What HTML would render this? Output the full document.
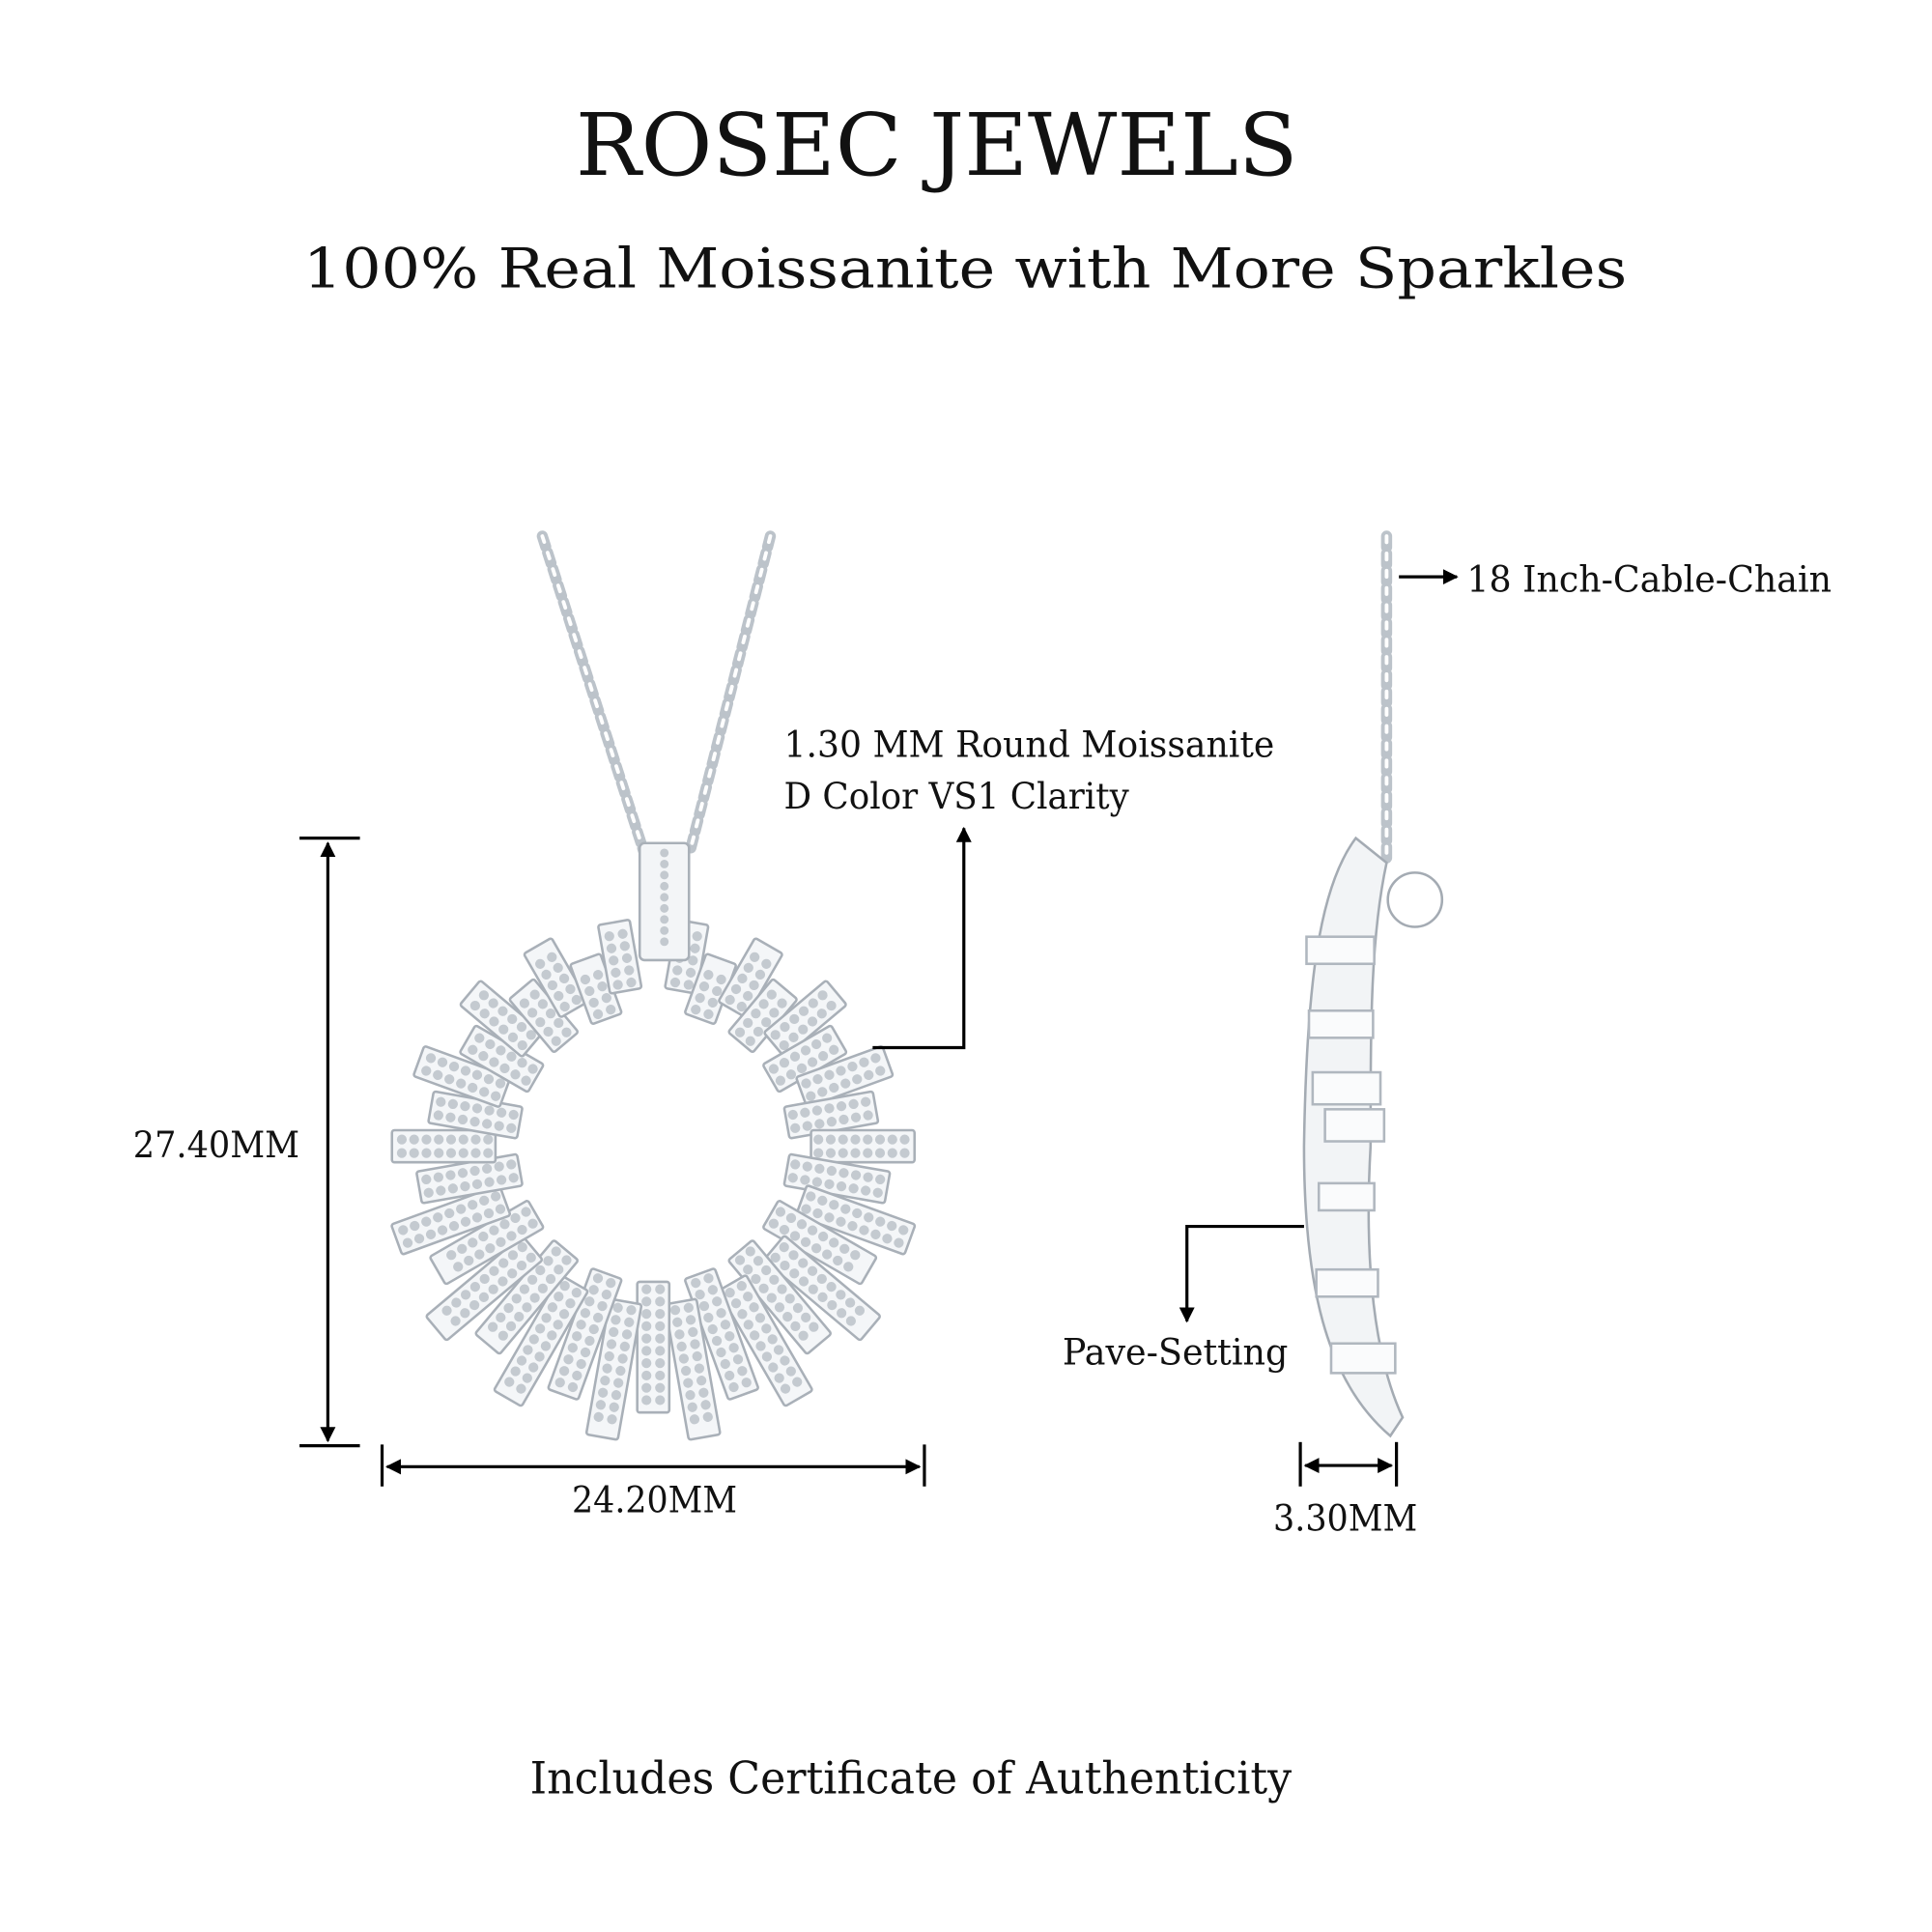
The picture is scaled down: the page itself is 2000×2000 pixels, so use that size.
<!DOCTYPE html>
<html><head><meta charset="utf-8"><style>
html,body{margin:0;padding:0;background:#fff;}
svg{display:block}
text{font-family:"DejaVu Serif","Liberation Serif",serif;fill:#111}
</style></head><body>
<svg id="s" width="2000" height="2000" viewBox="0 0 1567.5 1567.5" xmlns="http://www.w3.org/2000/svg">
<defs>
<marker id="ah" viewBox="0 0 10 10" refX="9" refY="5" markerWidth="5" markerHeight="5.5" orient="auto-start-reverse"><path d="M0,0L10,5L0,10z" fill="#000"/></marker>
</defs>
<text x="467" y="142" font-size="70" textLength="586" lengthAdjust="spacingAndGlyphs">ROSEC JEWELS</text>
<text x="246" y="233" font-size="45" textLength="1074" lengthAdjust="spacingAndGlyphs">100% Real Moissanite with More Sparkles</text>

<g fill="none" stroke-linecap="round">
<path d="M440,435 L522,690" stroke="#bcc3ca" stroke-width="9" stroke-dasharray="9 5"/>
<path d="M440,435 L522,690" stroke="#fff" stroke-width="3" stroke-dasharray="5 9"/>
<path d="M625,435 L560,690" stroke="#bcc3ca" stroke-width="9" stroke-dasharray="9 5"/>
<path d="M625,435 L560,690" stroke="#fff" stroke-width="3" stroke-dasharray="5 9"/>
<path d="M1125,435 L1125,700" stroke="#bcc3ca" stroke-width="9" stroke-dasharray="9 5"/>
<path d="M1125,435 L1125,700" stroke="#fff" stroke-width="3" stroke-dasharray="5 9"/>
</g>
<g id="rays"></g>
<rect x="519" y="684" width="40" height="95" rx="4" fill="#f3f5f7" stroke="#a9b0b8" stroke-width="2"/>
<line x1="539" y1="692" x2="539" y2="772" stroke="#c3c9cf" stroke-width="7" stroke-dasharray="0 9" stroke-linecap="round"/>

<g fill="#f2f4f6" stroke="#a4abb3" stroke-width="2">
<path d="M1100,680 C1070,720 1060,800 1058,930 C1058,1040 1075,1120 1128,1165 L1138,1150 C1110,1090 1108,1000 1112,930 C1112,830 1112,760 1125,700 Z"/>
<circle cx="1148" cy="730" r="22" fill="#fff"/>
</g>
<g stroke="#b0b7bf" stroke-width="2" fill="#fafbfc">
<rect x="1060" y="760" width="55" height="22"/><rect x="1062" y="820" width="52" height="22"/>
<rect x="1065" y="870" width="55" height="26"/><rect x="1075" y="900" width="48" height="26"/>
<rect x="1070" y="960" width="45" height="22"/><rect x="1068" y="1030" width="50" height="22"/>
<rect x="1080" y="1090" width="52" height="24"/>
</g>

<g stroke="#000" stroke-width="2.5" fill="none">
<line x1="243" y1="680" x2="292" y2="680"/><line x1="243" y1="1173" x2="292" y2="1173"/>
<line x1="266" y1="684" x2="266" y2="1169" marker-start="url(#ah)" marker-end="url(#ah)"/>
<line x1="310" y1="1172" x2="310" y2="1206"/><line x1="750" y1="1172" x2="750" y2="1206"/>
<line x1="314" y1="1190" x2="746" y2="1190" marker-start="url(#ah)" marker-end="url(#ah)"/>
<line x1="1055" y1="1170" x2="1055" y2="1206"/><line x1="1133" y1="1170" x2="1133" y2="1206"/>
<line x1="1059" y1="1189" x2="1129" y2="1189" marker-start="url(#ah)" marker-end="url(#ah)"/>
<polyline points="708,850 782,850 782,672" marker-end="url(#ah)"/>
<polyline points="1058,995 963,995 963,1072" marker-end="url(#ah)"/>
<line x1="1135" y1="468" x2="1182" y2="468" marker-end="url(#ah)"/>
</g>
<g font-size="29">
<text x="108" y="939" textLength="135" lengthAdjust="spacingAndGlyphs">27.40MM</text>
<text x="464" y="1227" textLength="134" lengthAdjust="spacingAndGlyphs">24.20MM</text>
<text x="1033" y="1242" textLength="117" lengthAdjust="spacingAndGlyphs">3.30MM</text>
<text x="636" y="614" textLength="398" lengthAdjust="spacingAndGlyphs">1.30 MM Round Moissanite</text>
<text x="636" y="656" textLength="280" lengthAdjust="spacingAndGlyphs">D Color VS1 Clarity</text>
<text x="862" y="1107" textLength="183" lengthAdjust="spacingAndGlyphs">Pave-Setting</text>
<text x="1190" y="480" textLength="296" lengthAdjust="spacingAndGlyphs">18 Inch-Cable-Chain</text>
</g>
<text x="430" y="1455" font-size="36" textLength="618" lengthAdjust="spacingAndGlyphs">Includes Certificate of Authenticity</text>
</svg>
<script>
var g=document.getElementById('rays'),ns='http://www.w3.org/2000/svg',cx=530,cy=930,N=36;
for(var i=0;i<N;i++){
 var a=-Math.PI/2+i*2*Math.PI/N; if(i==0)continue;
 var alt=(i%2?1:-1);
 var ri=110+(alt>0?18:0), ro=200+28*Math.sin(a)+alt*12;
 var deg=a*180/Math.PI;
 var gg=document.createElementNS(ns,'g');gg.setAttribute('transform','translate('+cx+','+cy+') rotate('+deg+')');
 var r=document.createElementNS(ns,'rect');
 r.setAttribute('x',ri);r.setAttribute('y',-13);r.setAttribute('width',ro-ri);r.setAttribute('height',26);r.setAttribute('rx',2);
 r.setAttribute('fill','#f4f6f8');r.setAttribute('stroke','#a9b0b8');r.setAttribute('stroke-width','2');gg.appendChild(r);
 for(var k=-1;k<=1;k+=2){var l=document.createElementNS(ns,'line');
 l.setAttribute('x1',ri+6);l.setAttribute('x2',ro-6);l.setAttribute('y1',k*5.5);l.setAttribute('y2',k*5.5);
 l.setAttribute('stroke','#c4cad0');l.setAttribute('stroke-width','8');l.setAttribute('stroke-linecap','round');l.setAttribute('stroke-dasharray','0 10');gg.appendChild(l);}
 g.appendChild(gg);}
</script>
</body></html>
